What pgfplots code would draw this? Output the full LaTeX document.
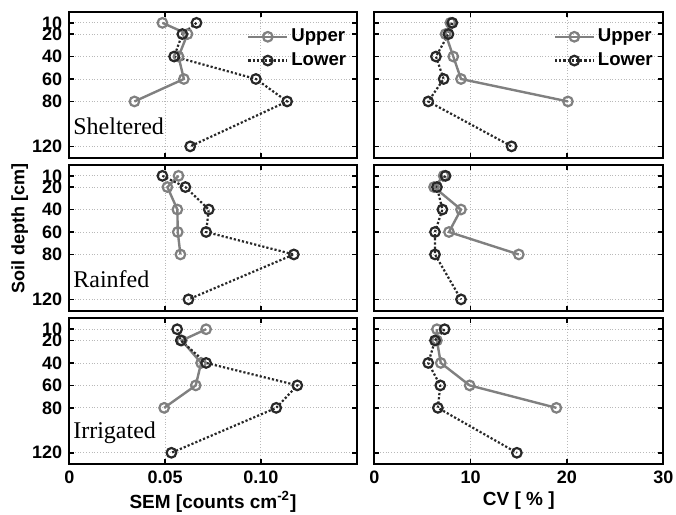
\documentclass[border=0pt]{standalone}
\usepackage{fontspec}
\setmainfont{Liberation Sans}
\newfontfamily\serifpanel{Liberation Serif}
\usepackage{pgfplots}
\pgfplotsset{compat=1.18}
\definecolor{upcol}{RGB}{128,128,128}
\definecolor{locol}{RGB}{40,40,40}

\pgfplotsset{
  panel/.style={
    scale only axis, height=73pt, anchor=north west,
    y dir=reverse, ymin=0, ymax=130,
    ytick={10,20,40,60,80,120},
    grid=major,
    major grid style={gray!55, densely dotted, line width=0.4pt},
    axis line style={line width=1.1pt},
    tick align=inside,
    major tick length=2.5pt,
    every tick/.style={black, line width=0.8pt},
    /pgf/number format/assume math mode=true,
    tick label style={font=\bfseries\fontsize{9}{10}\selectfont},
    label style={font=\bfseries\fontsize{9.5}{11}\selectfont},
    xlabel style={yshift=3pt},
    legend style={draw=none, fill=none, at={(0.975,0.905)}, anchor=north east,
      font=\bfseries\fontsize{9.3}{11}\selectfont, inner sep=0pt, row sep=1pt,
      nodes={inner sep=1.5pt}},
    legend cell align=left,
    legend image code/.code={\draw[mark repeat=2,mark phase=2,##1] plot coordinates {(0cm,0cm) (0.34cm,0cm) (0.68cm,0cm)};},
  },
  sem/.style={panel, width=143.7pt, xmin=0, xmax=0.15, xtick={0,0.05,0.1}, xticklabels={}},
  cv/.style={panel, width=144.5pt, xmin=0, xmax=30, xtick={0,10,20,30}, xticklabels={}, yticklabels={}},
  up/.style={upcol, line width=1.2pt, mark=o, mark size=2.4pt, mark options={solid, line width=1.1pt}},
  lo/.style={locol, line width=1.1pt, densely dotted, mark=o, mark size=2.4pt, mark options={solid, line width=1.1pt}},
}

\begin{document}
\begin{tikzpicture}
\useasboundingbox (0,0) rectangle (338pt,-257.5pt);

% ---- Sheltered ----
\begin{axis}[sem, at={(34.65pt,-5.8pt)}]
\addplot[up] coordinates {(0.0486,10) (0.0617,20) (0.0570,40) (0.0598,60) (0.0340,80)};
\addplot[lo] coordinates {(0.0664,10) (0.0590,20) (0.0547,40) (0.0974,60) (0.1137,80) (0.0631,120)};
\legend{Upper,Lower}
\node[anchor=west, inner sep=0pt, font=\serifpanel\fontsize{12}{14}\selectfont] at (axis cs:0.0019,102) {Sheltered};
\end{axis}
\begin{axis}[cv, at={(187.15pt,-5.8pt)}]
\addplot[up] coordinates {(7.9,10) (7.4,20) (8.2,40) (9.0,60) (20.1,80)};
\addplot[lo] coordinates {(8.1,10) (7.7,20) (6.4,40) (7.2,60) (5.6,80) (14.25,120)};
\legend{Upper,Lower}
\end{axis}

% ---- Rainfed ----
\begin{axis}[sem, at={(34.65pt,-82.3pt)}]
\addplot[up] coordinates {(0.0570,10) (0.0512,20) (0.0564,40) (0.0566,60) (0.0580,80)};
\addplot[lo] coordinates {(0.0486,10) (0.0606,20) (0.0728,40) (0.0714,60) (0.1172,80) (0.0622,120)};
\node[anchor=west, inner sep=0pt, font=\serifpanel\fontsize{12}{14}\selectfont] at (axis cs:0.0019,102) {Rainfed};
\end{axis}
\begin{axis}[cv, at={(187.15pt,-82.3pt)}]
\addplot[up] coordinates {(7.2,10) (6.2,20) (9.0,40) (7.75,60) (15.0,80)};
\addplot[lo] coordinates {(7.4,10) (6.5,20) (7.07,40) (6.3,60) (6.3,80) (9.0,120)};
\end{axis}

% ---- Irrigated ----
\begin{axis}[sem, at={(34.65pt,-159pt)}, xticklabels={0,0.05,0.10},
  xlabel={SEM [counts cm\textsuperscript{-2}]}]
\addplot[up] coordinates {(0.0714,10) (0.0587,20) (0.0688,40) (0.0660,60) (0.0495,80)};
\addplot[lo] coordinates {(0.0563,10) (0.0582,20) (0.0714,40) (0.1190,60) (0.1080,80) (0.0533,120)};
\node[anchor=west, inner sep=0pt, font=\serifpanel\fontsize{12}{14}\selectfont] at (axis cs:0.0019,102) {Irrigated};
\end{axis}
\begin{axis}[cv, at={(187.15pt,-159pt)}, xticklabels={0,10,20,30},
  xlabel={CV [ \% ]}]
\addplot[up] coordinates {(6.5,10) (6.5,20) (6.9,40) (9.9,60) (18.9,80)};
\addplot[lo] coordinates {(7.3,10) (6.3,20) (5.6,40) (6.85,60) (6.6,80) (14.8,120)};
\end{axis}

\node[rotate=90, anchor=north, inner sep=0pt, font=\bfseries\fontsize{9}{10}\selectfont] at (5.5pt,-114.3pt) {Soil depth [cm]};
\end{tikzpicture}
\end{document}
